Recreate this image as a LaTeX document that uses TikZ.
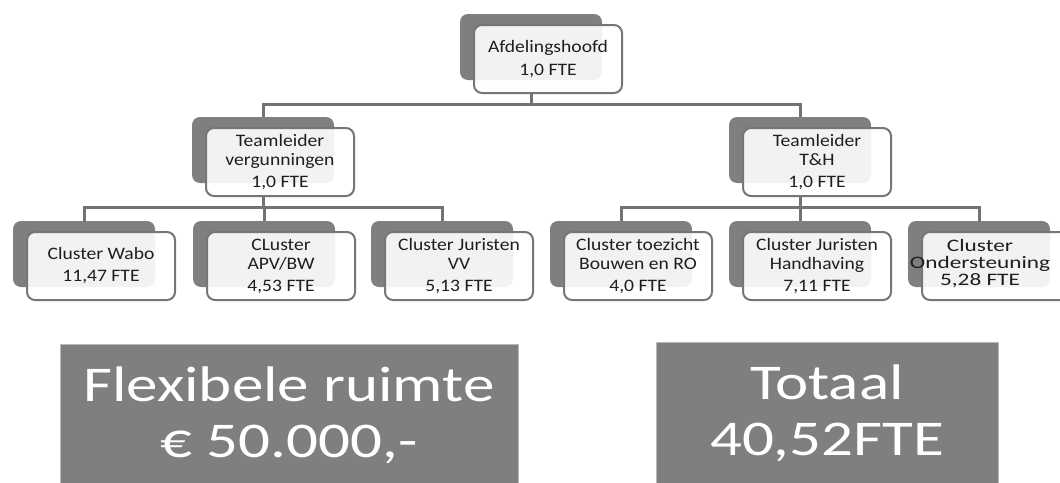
\documentclass[tikz,border=0pt]{standalone}
\usepackage{fontspec}
\setmainfont{Carlito}[FakeStretch=1.12]
\newfontfamily\ondfont{Carlito}[FakeStretch=1.33]
\newfontfamily\bigfont{Carlito}[FakeStretch=1.26]
\definecolor{darkbox}{RGB}{127,127,127}
\definecolor{edgegray}{RGB}{118,118,118}
\definecolor{linegray}{RGB}{115,115,115}
\definecolor{bigfill}{RGB}{127,127,127}
\definecolor{txt}{RGB}{30,30,30}
\tikzset{
  back/.style={draw=none, fill=darkbox, rounded corners=8pt, minimum width=142pt, minimum height=66pt, inner sep=0pt},
  front/.style={draw=edgegray, line width=2pt, fill=white, fill opacity=0.9, text opacity=1, rounded corners=8pt,
    minimum width=148pt, minimum height=68pt, inner sep=0pt, align=center, text=txt,
    font=\fontsize{17.5}{19}\selectfont},
  ondtext/.style={inner sep=0pt, align=center, text=txt, font=\ondfont\fontsize{17.5}{17}\selectfont},
  link/.style={draw=linegray, line width=3pt},
  bigbox/.style={fill=bigfill, draw=gray!55, line width=0.6pt, text=white, align=center,
    font=\bigfont\fontsize{50}{56}\selectfont, inner xsep=0pt, inner ysep=22pt}
}
\newcommand\orgunit[4]{%
  \node[back] (#1B) at (#2+71,#3+33) {};
  \node[front] (#1) at (#2+88,#3+45) {#4};}
\begin{document}
\begin{tikzpicture}[x=1pt,y=-1pt]
\useasboundingbox (0,0) rectangle (1060,482);
\clip (0,0) rectangle (1060,482);
% boxes
\orgunit{top}{460}{14}{Afdelingshoofd\\[4pt]1,0 FTE}
\orgunit{tlv}{192}{117}{Teamleider\\vergunningen\\[3pt]1,0 FTE}
\orgunit{tlt}{729}{117}{Teamleider\\T\&H\\[3pt]1,0 FTE}
\orgunit{wab}{13}{221}{Cluster Wabo\\[3pt]11,47 FTE}
\orgunit{apv}{193}{221}{CLuster\\APV/BW\\[3pt]4,53 FTE}
\orgunit{jvv}{371}{221}{Cluster Juristen\\VV\\[3pt]5,13 FTE}
\orgunit{toe}{550}{221}{Cluster toezicht\\Bouwen en RO\\[3pt]4,0 FTE}
\orgunit{jhh}{729}{221}{Cluster Juristen\\Handhaving\\[3pt]7,11 FTE}
\node[back] (ondB) at (908+71,221+33) {};
\node[front] (ond) at (922+74,221+45) {};
\node[ondtext] (ondT) at (980,264) {Cluster\\Ondersteuning\\5,28 FTE};
% connectors
\coordinate (b0) at (531,104);
\coordinate (b1) at (263,207);
\coordinate (b2) at (800,207);
\draw[link] (top.south -| topB.south) -- (b0);
\draw[link] (b0) -| (tlvB.north);
\draw[link] (b0) -| (tltB.north);
\draw[link] (tlv.south -| tlvB.south) -- (b1);
\draw[link] (b1) -| (wabB.north);
\draw[link] (b1) -| (apvB.north);
\draw[link] (b1) -| (jvvB.north);
\draw[link] (tlt.south -| tltB.south) -- (b2);
\draw[link] (b2) -| (toeB.north);
\draw[link] (b2) -| (jhhB.north);
\draw[link] (b2) -| (ondB.north);
% big boxes
\node[bigbox, minimum width=458pt, anchor=north] (flex) at (289,344) {Flexibele ruimte\\€ 50.000,-};
\node[bigbox, minimum width=342pt, anchor=north] (tot) at (827,342) {Totaal\\40,52FTE};
\end{tikzpicture}
\end{document}
